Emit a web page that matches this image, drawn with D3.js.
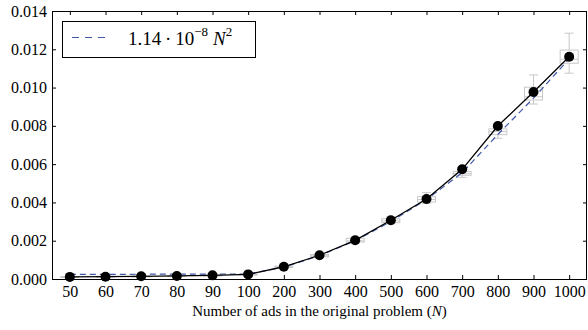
<!DOCTYPE html>
<html>
<head>
<meta charset="utf-8">
<script src="https://cdn.jsdelivr.net/npm/d3@7"></script>
<style>
  body { margin: 0; background: #fff; }
  svg { display: block; font-family: "Liberation Serif", "DejaVu Serif", serif; }
</style>
</head>
<body>
<div id="chart"></div>
<script>
// categories on the x axis (problem size N)
const categories = ['50', '60', '70', '80', '90', '100', '200', '300', '400', '500', '600', '700', '800', '900', '1000'];

// mean run time (black dots)
const meanValues = [0.00011, 0.00012, 0.00014, 0.00016, 0.00019, 0.00024, 0.00064, 0.00124, 0.00202, 0.00307, 0.00418, 0.00573, 0.00799, 0.00977, 0.01161];

// fitted curve (dashed)
const fitValues = [0.00024, 0.00024, 0.00025, 0.00025, 0.00026, 0.00026, 0.00062, 0.00122, 0.00200, 0.00300, 0.00415, 0.00555, 0.00755, 0.00945, 0.01150];

// box plot statistics
const boxLow  = [0.00005, 0.00006, 0.00008, 0.00010, 0.00013, 0.00018, 0.00057, 0.00112, 0.00188, 0.00288, 0.00395, 0.00531, 0.00735, 0.00914, 0.01075];
const boxQ1   = [0.00008, 0.00009, 0.00011, 0.00013, 0.00016, 0.00021, 0.00060, 0.00116, 0.00193, 0.00294, 0.00402, 0.00542, 0.00754, 0.00935, 0.01127];
const boxMed  = [0.00010, 0.00011, 0.00013, 0.00015, 0.00018, 0.00023, 0.00063, 0.00121, 0.00199, 0.00303, 0.00415, 0.00550, 0.00770, 0.00952, 0.01148];
const boxQ3   = [0.00013, 0.00014, 0.00016, 0.00018, 0.00021, 0.00026, 0.00067, 0.00128, 0.00213, 0.00315, 0.00430, 0.00561, 0.00784, 0.01002, 0.01196];
const boxHigh = [0.00016, 0.00017, 0.00019, 0.00021, 0.00024, 0.00029, 0.00071, 0.00133, 0.00220, 0.00325, 0.00451, 0.00585, 0.00810, 0.01066, 0.01284];

const yTicks = [0, 0.002, 0.004, 0.006, 0.008, 0.010, 0.012, 0.014];

const width = 588, height = 330;
const margin = { top: 11, right: 1, bottom: 51, left: 52 };

const svg = d3.select('#chart').append('svg')
  .attr('width', width)
  .attr('height', height);

const x = d3.scalePoint()
  .domain(categories)
  .range([margin.left, width - margin.right])
  .padding(0.5);

const y = d3.scaleLinear()
  .domain([0, 0.014])
  .range([height - margin.bottom, margin.top]);

const x0 = margin.left, x1 = width - margin.right;
const y0 = height - margin.bottom, y1 = margin.top;

// axes with inward ticks on all four sides
const bottomAxis = svg.append('g')
  .attr('transform', `translate(0,${y0})`)
  .call(d3.axisBottom(x).tickSize(-4).tickPadding(7));
bottomAxis.selectAll('text').style('font-size', '16px').attr('fill', '#000');

svg.append('g')
  .attr('transform', `translate(0,${y1})`)
  .call(d3.axisTop(x).tickSize(-4).tickFormat(''));

const leftAxis = svg.append('g')
  .attr('transform', `translate(${x0},0)`)
  .call(d3.axisLeft(y).tickValues(yTicks).tickSize(-4).tickPadding(5).tickFormat(d3.format('.3f')));
leftAxis.selectAll('text').style('font-size', '16px').attr('fill', '#000');

svg.append('g')
  .attr('transform', `translate(${x1},0)`)
  .call(d3.axisRight(y).tickValues(yTicks).tickSize(-4).tickFormat(''));

svg.selectAll('.domain').remove();
svg.selectAll('.tick line').attr('stroke', '#000');
svg.selectAll('g').attr('font-family', null);

// frame
svg.append('rect')
  .attr('x', x0 + 0.5)
  .attr('y', y1 + 0.5)
  .attr('width', x1 - x0 - 1)
  .attr('height', y0 - y1)
  .attr('fill', 'none')
  .attr('stroke', '#000');

// box plots
const boxW = 18, capW = 9;
const boxG = svg.append('g')
  .attr('stroke', '#c8c8c8')
  .attr('stroke-width', 1)
  .attr('fill', 'none');

categories.forEach((c, i) => {
  const cx = x(c);
  boxG.append('line')
    .attr('x1', cx).attr('x2', cx)
    .attr('y1', y(boxHigh[i])).attr('y2', y(boxQ3[i]));
  boxG.append('line')
    .attr('x1', cx).attr('x2', cx)
    .attr('y1', y(boxQ1[i])).attr('y2', y(boxLow[i]));
  boxG.append('line')
    .attr('x1', cx - capW / 2).attr('x2', cx + capW / 2)
    .attr('y1', y(boxHigh[i])).attr('y2', y(boxHigh[i]));
  boxG.append('line')
    .attr('x1', cx - capW / 2).attr('x2', cx + capW / 2)
    .attr('y1', y(boxLow[i])).attr('y2', y(boxLow[i]));
  boxG.append('rect')
    .attr('x', cx - boxW / 2)
    .attr('y', y(boxQ3[i]))
    .attr('width', boxW)
    .attr('height', Math.max(1, y(boxQ1[i]) - y(boxQ3[i])));
  boxG.append('line')
    .attr('x1', cx - boxW / 2).attr('x2', cx + boxW / 2)
    .attr('y1', y(boxMed[i])).attr('y2', y(boxMed[i]));
});

// fitted dashed curve
const fitLine = d3.line()
  .x((d, i) => x(categories[i]))
  .y(d => y(d));

svg.append('path')
  .datum(fitValues)
  .attr('d', fitLine)
  .attr('fill', 'none')
  .attr('stroke', '#3f57a8')
  .attr('stroke-width', 1.2)
  .attr('stroke-dasharray', '6,4');

// measured mean line + dots
svg.append('path')
  .datum(meanValues)
  .attr('d', fitLine)
  .attr('fill', 'none')
  .attr('stroke', '#000')
  .attr('stroke-width', 1.3);

svg.append('g')
  .selectAll('circle')
  .data(meanValues)
  .enter()
  .append('circle')
  .attr('cx', (d, i) => x(categories[i]))
  .attr('cy', d => y(d))
  .attr('r', 5)
  .attr('fill', '#000');

// legend
const legend = svg.append('g');
legend.append('rect')
  .attr('x', 62.5)
  .attr('y', 21.5)
  .attr('width', 193)
  .attr('height', 36)
  .attr('fill', '#fff')
  .attr('stroke', '#000');

legend.append('line')
  .attr('x1', 72).attr('x2', 107)
  .attr('y1', 37.5).attr('y2', 37.5)
  .attr('stroke', '#3f57a8')
  .attr('stroke-width', 1.2)
  .attr('stroke-dasharray', '7,6');

const lt = legend.append('text')
  .attr('x', 128)
  .attr('y', 45)
  .style('font-size', '19px')
  .attr('fill', '#000');
lt.append('tspan').text('1.14\u2009\u00b7\u200910');
lt.append('tspan').attr('dy', -9).style('font-size', '13px').text('\u22128');
lt.append('tspan').attr('dy', 9).attr('dx', 5).style('font-style', 'italic').text('N');
lt.append('tspan').attr('dy', -9).style('font-size', '13px').text('2');

// x axis title
const title = svg.append('text')
  .attr('x', (x0 + x1) / 2)
  .attr('y', 316)
  .attr('text-anchor', 'middle')
  .style('font-size', '15px')
  .attr('fill', '#000');
title.append('tspan').text('Number of ads in the original problem (');
title.append('tspan').style('font-style', 'italic').text('N');
title.append('tspan').text(')');
</script>
</body>
</html>
